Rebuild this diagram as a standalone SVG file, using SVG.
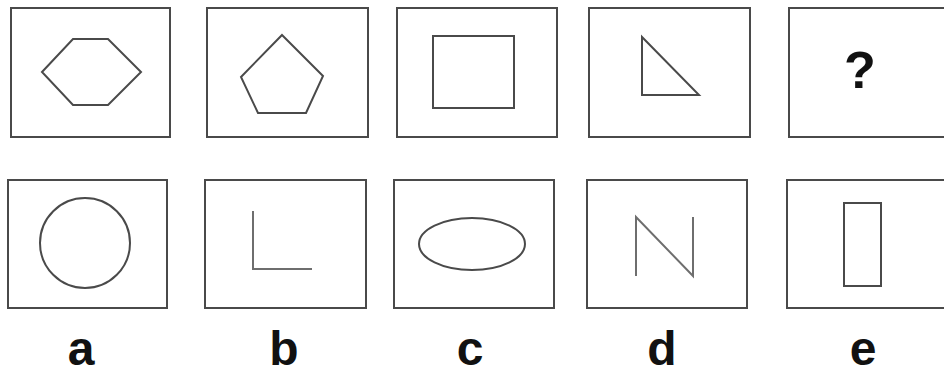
<svg xmlns="http://www.w3.org/2000/svg" width="944" height="376" viewBox="0 0 944 376">
<style>
.box{fill:#fff;stroke:#4a4a4a;stroke-width:2}
.shape{fill:none;stroke:#4a4a4a;stroke-width:2;stroke-linejoin:miter}
.light{fill:none;stroke:#6e6e6e;stroke-width:2}
.lbl{font-family:"Liberation Sans",Arial,sans-serif;font-size:48px;font-weight:bold;fill:#111;text-anchor:middle}
.q{font-family:"Liberation Sans",Arial,sans-serif;font-size:52px;font-weight:bold;fill:#111;text-anchor:middle}
</style>
<rect width="944" height="376" fill="#fff"/>
<g id="box1">
<rect class="box" x="11" y="8" width="159" height="129"/>
<polygon class="shape" points="42,72 73,39 108,39 141,72 108,105 73,105"/>
</g>
<g id="box2">
<rect class="box" x="207" y="8" width="161" height="129"/>
<polygon class="shape" points="282,35 323,76 306,113 258,113 241,77"/>
</g>
<g id="box3">
<rect class="box" x="397" y="8" width="160" height="129"/>
<rect class="shape" x="433" y="36" width="81" height="72"/>
</g>
<g id="box4">
<rect class="box" x="589" y="8" width="161" height="129"/>
<polygon class="shape" points="642,37 642,95 699,95"/>
</g>
<g id="box5">
<rect class="box" x="789" y="8" width="170" height="129"/>
<text class="q" x="860" y="88">?</text>
</g>
<g id="a">
<rect class="box" x="8" y="180" width="159" height="128"/>
<circle class="shape" cx="85" cy="243" r="45"/>
<text class="lbl" x="81" y="365">a</text>
</g>
<g id="b">
<rect class="box" x="205" y="180" width="161" height="128"/>
<polyline class="light" points="253,211 253,269 312,269"/>
<text class="lbl" x="284" y="365">b</text>
</g>
<g id="c">
<rect class="box" x="394" y="180" width="160" height="128"/>
<ellipse class="shape" cx="472" cy="244" rx="53" ry="26"/>
<text class="lbl" x="470" y="365">c</text>
</g>
<g id="d">
<rect class="box" x="587" y="180" width="160" height="128"/>
<polyline class="light" points="636,276 636,217 693,276 693,217"/>
<text class="lbl" x="662" y="365">d</text>
</g>
<g id="e">
<rect class="box" x="787" y="180" width="170" height="128"/>
<rect class="shape" x="844" y="203" width="37" height="83"/>
<text class="lbl" x="863" y="365">e</text>
</g>
<g id="connectors"/>
</svg>
